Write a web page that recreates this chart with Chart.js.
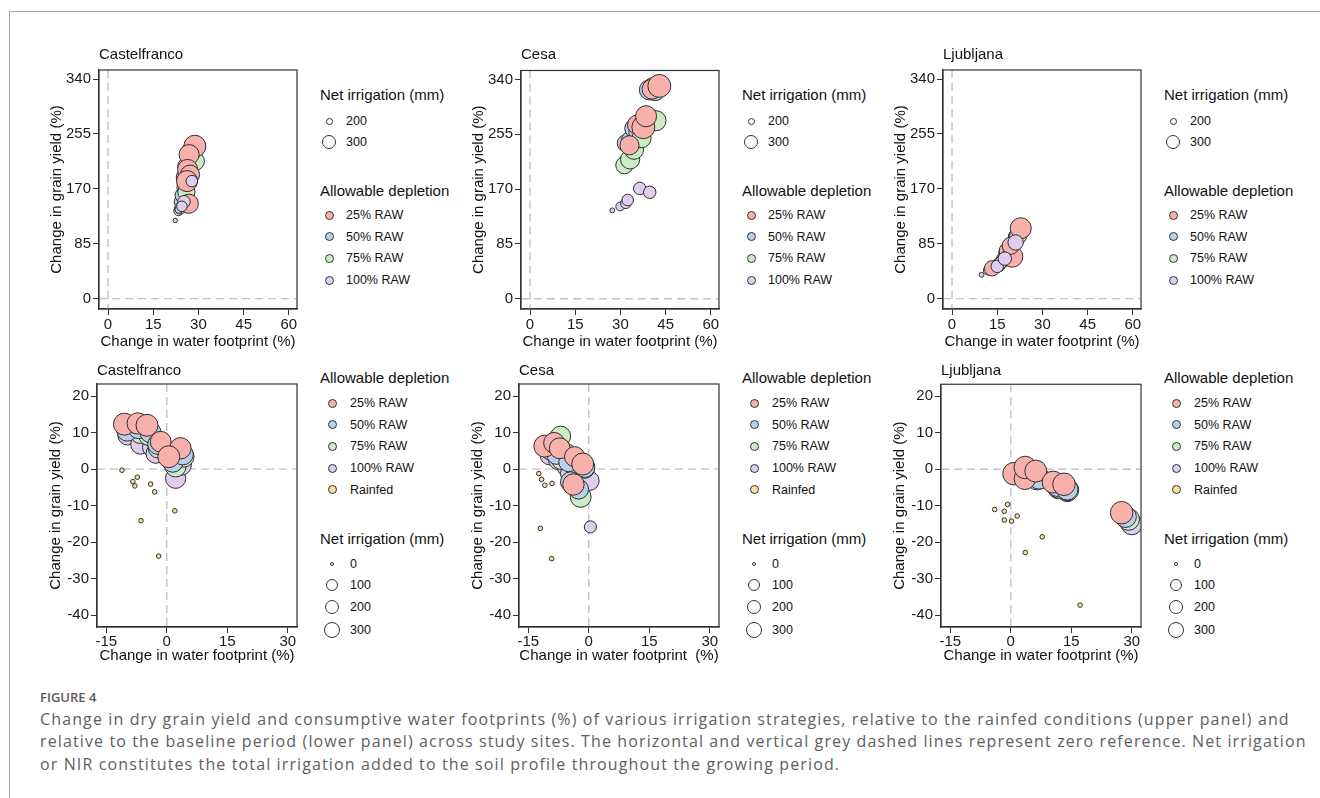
<!DOCTYPE html>
<html>
<head>
<meta charset="utf-8">
<script src="https://cdn.jsdelivr.net/npm/chart.js@4.4.1/dist/chart.umd.min.js"></script>
<style>
body{margin:0;background:#fff;width:1320px;height:798px;position:relative;overflow:hidden;font-family:"Liberation Sans",Arial,sans-serif;color:#111}
.frame{position:absolute;left:9px;top:11px;width:1320px;height:800px;border-top:1.5px solid #a6a6a6;border-left:1.5px solid #a6a6a6}
canvas{position:absolute}
.ptitle{position:absolute;font-size:15px;line-height:18px;white-space:nowrap}
.lt{position:absolute;font-size:15px;line-height:18px;white-space:nowrap}
.li{position:absolute;font-size:12.5px;line-height:14px;white-space:nowrap}
.dot{position:absolute;border:1px solid #333;border-radius:50%;box-sizing:border-box}
.fig{position:absolute;left:40px;top:688px;font-family:"Open Sans",Lato,sans-serif;font-weight:600;font-size:13px;color:#595959}
.cap{position:absolute;left:40px;top:708px;font-family:"Open Sans",Lato,sans-serif;font-size:16px;line-height:22.3px;color:#606060;white-space:nowrap}
</style>
</head>
<body>
<div class="frame"></div>
<div class="fig">FIGURE 4</div>
<div class="cap" id="cap"></div>
<script>
// ---- data ----
const sites = ['Castelfranco', 'Cesa', 'Ljubljana'];
const categories = ['25% RAW', '50% RAW', '75% RAW', '100% RAW', 'Rainfed'];
const catColors = ['#F8B1AA', '#B9D0EA', '#CAEDC4', '#DFCDEF', '#FBDD9E'];

const upperXTicks = [0, 15, 30, 45, 60];
const upperYTicks = [0, 85, 170, 255, 340];
const lowerXTicks = [-15, 0, 15, 30];
const lowerYTicks = [-40, -30, -20, -10, 0, 10, 20];
const upperSizeLegend = [200, 300];
const lowerSizeLegend = [0, 100, 200, 300];

const captionLines = [
    'Change in dry grain yield and consumptive water footprints (%) of various irrigation strategies, relative to the rainfed conditions (upper panel) and',
    'relative to the baseline period (lower panel) across study sites. The horizontal and vertical grey dashed lines represent zero reference. Net irrigation',
    'or NIR constitutes the total irrigation added to the soil profile throughout the growing period.'
];

// [water footprint change %, grain yield change %, net irrigation mm]
// upper panel: relative to rainfed
const castUp25 = [[26.8,147,320],[28.8,236,350],[26.9,223,330],[26.4,200,330],[27.2,192,320],[26.2,182,340]];
const castUp50 = [[24.2,150,260],[24.8,160,280],[25.5,188,300],[26.0,205,300],[27.6,228,320]];
const castUp75 = [[23.4,136,220],[24.0,140,240],[25.4,172,280],[26.0,165,300],[28.8,213,320]];
const castUp100 = [[22.3,121,165],[23.5,138,200],[25.2,150,250],[24.5,143,230],[27.8,182,240]];

const cesaUp25 = [[33.0,238,320],[35.5,270,320],[37.6,266,360],[38.5,283,340],[40.5,325,330],[42.9,330,360]];
const cesaUp50 = [[31.8,241,300],[33.4,246,310],[34.6,264,320],[35.8,258,310],[39.6,324,330],[41.5,322,320]];
const cesaUp75 = [[31.3,207,300],[33.2,216,320],[34.5,231,320],[37.0,249,320],[41.8,276,330],[40.8,328,320]];
const cesaUp100 = [[27.3,137,170],[29.9,143,210],[31.8,148,230],[32.4,153,240],[36.4,171,250],[39.7,165,250]];

const ljubUp25 = [[13.3,47,280],[18.5,74,300],[20.0,65,340],[19.5,82,300],[22.8,109,340]];
const ljubUp50 = [[15.5,52,260],[17.0,60,270],[18.0,70,280],[21.5,95,300]];
const ljubUp75 = [[12.0,44,220],[16.2,56,250],[19.0,78,280],[22.0,98,300]];
const ljubUp100 = [[9.8,37,170],[15.0,50,250],[17.5,62,260],[21.1,87,280]];

// lower panel: relative to baseline period
const castLow25 = [[-10.5,12.3,310],[-7.2,12.5,300],[-4.9,12.0,310],[-1.5,7.5,290],[3.4,5.7,300],[0.5,3.4,310]];
const castLow50 = [[-9.8,10.5,290],[-7.0,11.2,290],[-4.0,10.0,290],[-2.2,6.8,280],[1.5,2.0,290],[4.0,4.0,290]];
const castLow75 = [[-9.3,10.7,280],[-6.6,9.8,280],[-4.4,9.3,290],[-2.1,5.8,280],[2.2,0.7,290],[4.2,3.4,290]];
const castLow100 = [[-9.7,9.3,270],[-6.5,6.8,270],[-3.5,6.0,280],[-2.7,4.3,270],[2.2,-2.5,280],[3.6,1.1,280]];
const castLowRain = [[-11.1,-0.3,0],[-8.4,-3.4,0],[-7.9,-4.6,0],[-7.3,-2.2,0],[-4.0,-4.1,0],[-3.0,-6.2,0],[2.0,-11.4,0],[-6.4,-14.1,0],[-2.0,-23.8,0]];

const cesaLow25 = [[-10.9,6.3,310],[-8.6,7.2,290],[-7.2,5.7,290],[-3.5,3.4,280],[-1.5,1.4,310],[-3.8,-4.2,300]];
const cesaLow50 = [[-9.4,5.2,280],[-8.0,4.0,270],[-5.0,2.0,270],[-1.0,0.5,280],[-4.5,-3.5,280],[-2.5,-5.5,270]];
const cesaLow75 = [[-7.0,9.0,280],[-6.8,2.6,270],[-5.6,4.3,270],[-1.0,0.2,270],[-3.0,-5.0,270],[-2.0,-7.6,290]];
const cesaLow100 = [[-9.7,3.8,260],[-7.6,2.5,260],[-5.5,0.5,250],[-4.7,-1.2,250],[0.2,-3.2,260],[0.4,-15.8,135]];
const cesaLowRain = [[-12.4,-1.2,0],[-11.7,-2.8,0],[-10.9,-4.4,0],[-9.1,-3.9,0],[-6.2,-0.6,0],[-12.0,-16.2,0],[-9.2,-24.5,0]];

const ljubLow25 = [[0.8,-1.2,320],[3.5,-2.6,300],[3.6,0.5,320],[6.2,-0.5,310],[10.5,-3.5,310],[13.2,-4.1,320],[27.5,-11.9,320]];
const ljubLow50 = [[4.5,-1.5,300],[7.0,-2.5,300],[11.5,-4.5,300],[14.0,-5.5,300],[28.5,-13.0,300]];
const ljubLow75 = [[5.0,-1.0,300],[6.8,-2.1,300],[12.0,-5.0,300],[14.2,-5.7,300],[29.2,-13.7,310]];
const ljubLow100 = [[4.0,-2.0,290],[6.5,-2.8,290],[11.8,-5.2,290],[14.0,-6.0,290],[30.0,-15.0,300]];
const ljubLowRain = [[-4.0,-11.0,0],[-0.8,-9.6,0],[-1.6,-11.5,0],[-1.6,-13.9,0],[0.2,-14.2,0],[1.6,-12.8,0],[7.8,-18.5,0],[3.6,-22.8,0],[17.2,-37.2,0]];

// ---- size scales (mm -> px radius) ----
function rUp(n) { return 1.5 + (n - 150) * 0.0475; }
function rLow(n) { return 2.3 + n * 0.028; }
const upLegendR = {200: 3.5, 300: 7};
const lowLegendR = {0: 2, 100: 6, 200: 7, 300: 8};

// ---- layout ----
const T = 12, R = 14;
const FONT = '"Liberation Sans", Arial, sans-serif';

const zeroLines = {
    id: 'zeroLines',
    beforeDatasetsDraw(chart) {
        const {ctx, chartArea: a, scales: {x, y}} = chart;
        const x0 = x.getPixelForValue(0), y0 = y.getPixelForValue(0);
        ctx.save();
        ctx.strokeStyle = '#c2c2c2';
        ctx.lineWidth = 1.4;
        ctx.setLineDash([8, 5]);
        ctx.beginPath(); ctx.moveTo(x0, a.top); ctx.lineTo(x0, a.bottom); ctx.stroke();
        ctx.beginPath(); ctx.moveTo(a.left, y0); ctx.lineTo(a.right, y0); ctx.stroke();
        ctx.restore();
    },
    afterDraw(chart) {
        const {ctx, chartArea: a} = chart;
        ctx.save();
        ctx.strokeStyle = '#333';
        ctx.lineWidth = 1.2;
        ctx.strokeRect(a.left, a.top, a.width, a.height);
        ctx.restore();
    }
};

function toPoints(arr, rf) {
    return arr.map(d => ({x: d[0], y: d[1], r: rf(d[2])}));
}

function makePanel(p) {
    const W = p.L + p.w + R, H = T + p.h + p.B;
    const c = document.createElement('canvas');
    c.width = W; c.height = H;
    c.style.left = (p.left - p.L) + 'px';
    c.style.top = (p.top - T) + 'px';
    document.body.appendChild(c);

    const datasets = p.sets.map(s => ({
        label: categories[s.cat],
        data: toPoints(s.data, p.rf),
        backgroundColor: catColors[s.cat],
        borderColor: '#2e2e2e',
        borderWidth: 1
    }));

    const tickFont = {family: FONT, size: 15};
    const titleFont = {family: FONT, size: 15};

    new Chart(c, {
        type: 'bubble',
        data: {datasets},
        options: {
            responsive: false,
            animation: false,
            events: [],
            layout: {padding: {top: T, right: R, left: 0, bottom: 0}},
            plugins: {legend: {display: false}, tooltip: {enabled: false}},
            scales: {
                x: {
                    type: 'linear', min: p.xMin, max: p.xMax,
                    afterBuildTicks: s => { s.ticks = p.xTicks.map(v => ({value: v})); },
                    afterFit: s => { s.height = p.B; },
                    grid: {drawOnChartArea: false, drawTicks: true, tickLength: 6, color: '#333'},
                    border: {display: true, color: '#333', width: 1.2},
                    ticks: {font: tickFont, color: '#1a1a1a', padding: p.xPad, maxRotation: 0},
                    title: {display: true, text: p.xTitle, font: titleFont, color: '#111', padding: {top: 2, bottom: 4}}
                },
                y: {
                    type: 'linear', min: p.yMin, max: p.yMax,
                    afterBuildTicks: s => { s.ticks = p.yTicks.map(v => ({value: v})); },
                    afterFit: s => { s.width = p.L; },
                    grid: {drawOnChartArea: false, drawTicks: true, tickLength: 6, color: '#333'},
                    border: {display: true, color: '#333', width: 1.2},
                    ticks: {font: tickFont, color: '#1a1a1a', padding: 2},
                    title: {display: true, text: 'Change in grain yield (%)', font: titleFont, color: '#111', padding: {top: 4, bottom: 2}}
                }
            }
        },
        plugins: [zeroLines]
    });
}

function addText(cls, text, x, y) {
    const d = document.createElement('div');
    d.className = cls;
    d.textContent = text;
    d.style.left = x + 'px';
    d.style.top = y + 'px';
    document.body.appendChild(d);
}

function addDot(cx, cy, r, fill) {
    const d = document.createElement('div');
    d.className = 'dot';
    d.style.left = (cx - r) + 'px';
    d.style.top = (cy - r) + 'px';
    d.style.width = (2 * r) + 'px';
    d.style.height = (2 * r) + 'px';
    d.style.background = fill;
    document.body.appendChild(d);
}

const upperSets = [
    [castUp25, castUp50, castUp75, castUp100],
    [cesaUp25, cesaUp50, cesaUp75, cesaUp100],
    [ljubUp25, ljubUp50, ljubUp75, ljubUp100]
];
const lowerSets = [
    [castLow25, castLow50, castLow75, castLow100, castLowRain],
    [cesaLow25, cesaLow50, cesaLow75, cesaLow100, cesaLowRain],
    [ljubLow25, ljubLow50, ljubLow75, ljubLow100, ljubLowRain]
];

sites.forEach((site, i) => {
    // upper row
    const ul = 99 + 422 * i;
    const us = upperSets[i];
    makePanel({
        left: ul, top: 70, w: 198, h: 239, L: 55, B: 46, xPad: 1,
        xMin: -3, xMax: 62.7, yMin: -16, yMax: 354,
        xTicks: upperXTicks, yTicks: upperYTicks, rf: rUp,
        xTitle: 'Change in water footprint (%)',
        // draw order: first listed ends up on top
        sets: [{cat: 3, data: us[3]}, {cat: 0, data: us[0]}, {cat: 2, data: us[2]}, {cat: 1, data: us[1]}]
    });
    addText('ptitle', site, ul, 45);

    // upper legend
    const ux = ul + 198 + 23;
    addText('lt', 'Net irrigation (mm)', ux, 86);
    upperSizeLegend.forEach((v, k) => {
        const cy = [121, 142][k];
        addDot(ux + 9, cy, upLegendR[v], '#fff');
        addText('li', String(v), ux + 26, cy - 7);
    });
    addText('lt', 'Allowable depletion', ux, 182);
    [0, 1, 2, 3].forEach(k => {
        const cy = 215 + k * 21.7;
        addDot(ux + 9, cy, 4.5, catColors[k]);
        addText('li', categories[k], ux + 26, cy - 7);
    });

    // lower row
    const ll = 97 + 422 * i;
    const ls = lowerSets[i];
    makePanel({
        left: ll, top: 384, w: 200, h: 243, L: 54, B: 42, xPad: 0,
        xMin: -17.3, xMax: 32.3, yMin: -43.2, yMax: 23.3,
        xTicks: lowerXTicks, yTicks: lowerYTicks, rf: rLow,
        xTitle: i === 1 ? 'Change in water footprint  (%)' : 'Change in water footprint (%)',
        sets: [0, 1, 2, 3, 4].map(k => ({cat: k, data: ls[k]}))
    });
    addText('ptitle', site, ll, 361);

    // lower legend
    const lx = ll + 200 + 23;
    addText('lt', 'Allowable depletion', lx, 369);
    [0, 1, 2, 3, 4].forEach(k => {
        const cy = 403 + k * 21.7;
        addDot(lx + 12, cy, 4.5, catColors[k]);
        addText('li', categories[k], lx + 30, cy - 7);
    });
    addText('lt', 'Net irrigation (mm)', lx, 530);
    lowerSizeLegend.forEach((v, k) => {
        const cy = [564, 585, 607, 630][k];
        addDot(lx + 12, cy, lowLegendR[v], '#fff');
        addText('li', String(v), lx + 30, cy - 7);
    });
});

// caption: stretch letter spacing so the first line spans like the original
const cap = document.getElementById('cap');
cap.innerHTML = captionLines.join('<br>');
const mctx = document.createElement('canvas').getContext('2d');
mctx.font = '16px "Open Sans"';
const w1 = mctx.measureText(captionLines[0]).width;
const ls = Math.max(0, (1250 - w1) / captionLines[0].length);
cap.style.letterSpacing = ls.toFixed(2) + 'px';
</script>
</body>
</html>
